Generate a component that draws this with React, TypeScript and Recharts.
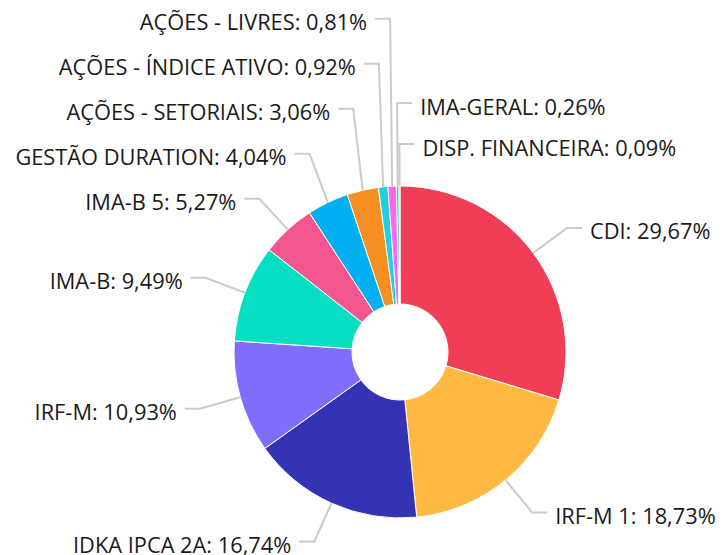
import React from "react";
import { PieChart, Pie, Cell } from "recharts";

const names = [
  "CDI",
  "IRF-M 1",
  "IDKA IPCA 2A",
  "IRF-M",
  "IMA-B",
  "IMA-B 5",
  "GESTÃO DURATION",
  "AÇÕES - SETORIAIS",
  "AÇÕES - ÍNDICE ATIVO",
  "AÇÕES - LIVRES",
  "IMA-GERAL",
  "DISP. FINANCEIRA",
];
const values = [29.67, 18.73, 16.74, 10.93, 9.49, 5.27, 4.04, 3.06, 0.92, 0.81, 0.26, 0.09];
const colors = [
  "#EF3E56",
  "#FFB943",
  "#3333B3",
  "#806EFA",
  "#07DFC5",
  "#F6568F",
  "#02B0F2",
  "#F78E22",
  "#22CFE0",
  "#FF66F0",
  "#2ED3B7",
  "#8E5CF0",
];

const data = names.map((name, i) => ({ name, value: values[i] }));

const START = 90;
const LEN1 = 42;
const LEN2 = 15;
const GAP_LEFT = 45;
const GAP_RIGHT = 41;
const TEXT_GAP = 8;
const LINE_COLOR = "#cbcbcb";

type LayoutItem = { mid: number; right: boolean; y: number };
let cache: { key: string; items: LayoutItem[] } | null = null;

function getLayout(cx: number, cy: number, R: number): LayoutItem[] {
  const key = `${cx}-${cy}-${R}`;
  if (cache && cache.key === key) return cache.items;
  const total = values.reduce((a, b) => a + b, 0);
  let cum = 0;
  const items: LayoutItem[] = values.map((v) => {
    let mid = START - ((cum + v / 2) / total) * 360;
    cum += v;
    while (mid <= -90) mid += 360;
    while (mid > 270) mid -= 360;
    const right = mid <= 91.5;
    const y = cy - (R + LEN1) * Math.sin((mid * Math.PI) / 180);
    return { mid, right, y };
  });
  const adjust = (idxs: number[], gap: number) => {
    for (let k = idxs.length - 2; k >= 0; k--) {
      const below = items[idxs[k + 1]].y;
      const it = items[idxs[k]];
      it.y = Math.min(it.y, below - gap);
    }
  };
  const rightIdx = items
    .map((it, i) => i)
    .filter((i) => items[i].right)
    .sort((a, b) => items[b].mid - items[a].mid);
  const leftIdx = items
    .map((it, i) => i)
    .filter((i) => !items[i].right)
    .sort((a, b) => items[a].mid - items[b].mid);
  adjust(rightIdx, GAP_RIGHT);
  adjust(leftIdx, GAP_LEFT);
  cache = { key, items };
  return items;
}

const fmt = (v: number) => v.toFixed(2).replace(".", ",") + "%";

const renderLabel = (props: any) => {
  const { cx, cy, midAngle, outerRadius, index } = props;
  const R = outerRadius;
  const layout = getLayout(cx, cy, R);
  const item = layout[index];
  const rad = (midAngle * Math.PI) / 180;
  const x0 = cx + R * Math.cos(rad);
  const y0 = cy - R * Math.sin(rad);
  const x1 = cx + (R + LEN1) * Math.cos(rad);
  const y1 = item.y;
  const x2 = x1 + (item.right ? LEN2 : -LEN2);
  const tx = x2 + (item.right ? TEXT_GAP : -TEXT_GAP);
  return (
    <g key={`lbl-${index}`}>
      <polyline
        points={`${x0},${y0} ${x1},${y1} ${x2},${y1}`}
        fill="none"
        stroke={LINE_COLOR}
        strokeWidth={2}
      />
      <text
        x={tx}
        y={y1 + 11.5}
        textAnchor={item.right ? "start" : "end"}
        fill="#1a1a1a"
        fontSize={21.8}
        fontFamily="'Open Sans', 'Noto Sans', sans-serif"
      >
        {`${names[index]}: ${fmt(values[index])}`}
      </text>
    </g>
  );
};

export default function App() {
  return (
    <div style={{ position: "absolute", left: 0, top: 0, width: 722, height: 555, background: "#fff" }}>
      <PieChart width={722} height={555} margin={{ top: 0, right: 0, bottom: 0, left: 0 }}>
        <Pie
          data={data}
          dataKey="value"
          nameKey="name"
          cx={400}
          cy={352}
          innerRadius={48}
          outerRadius={166}
          startAngle={90}
          endAngle={-270}
          stroke="#fff"
          strokeWidth={1}
          label={renderLabel}
          labelLine={false}
          isAnimationActive={false}
        >
          {data.map((d, i) => (
            <Cell key={d.name} fill={colors[i]} />
          ))}
        </Pie>
      </PieChart>
    </div>
  );
}
